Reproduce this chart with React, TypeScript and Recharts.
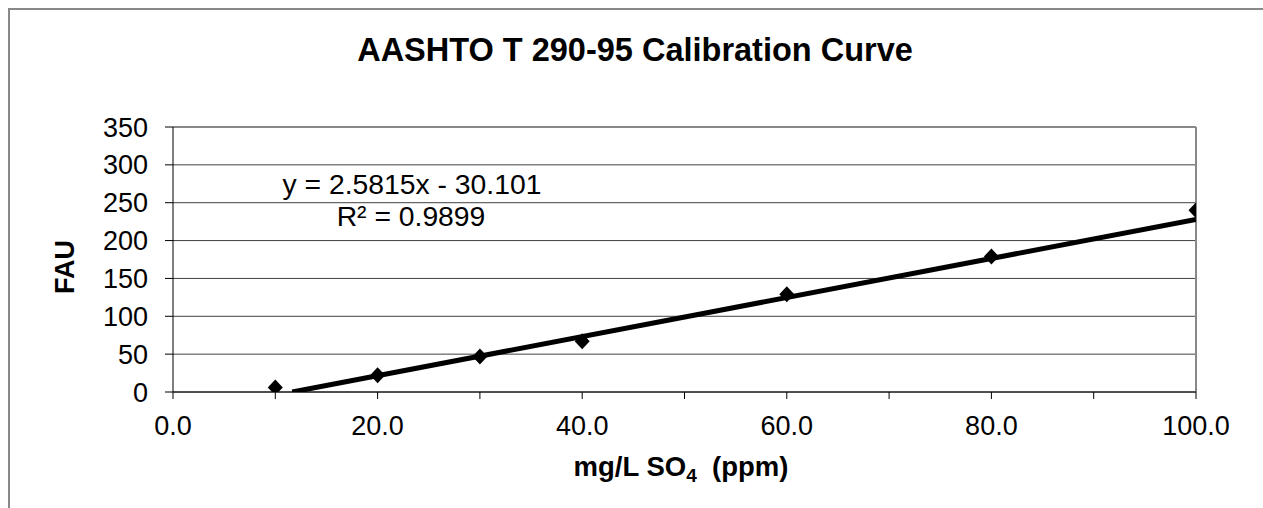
import React from 'react';
import { ScatterChart, Scatter, XAxis, YAxis, CartesianGrid, ReferenceLine } from 'recharts';

// SO4 standards (mg/L) and turbidity readings (FAU)
const concentrations = [10, 20, 30, 40, 60, 80, 100];
const fauReadings = [6, 22, 47, 67, 129, 179, 240];

// linear trendline ends, as drawn
const trendX = [11.66, 100];
const trendY = [0, 228.05];

const xTicks = [0, 10, 20, 30, 40, 50, 60, 70, 80, 90, 100];
const yTicks = [0, 50, 100, 150, 200, 250, 300, 350];

const title = 'AASHTO T 290-95 Calibration Curve';
const equation = 'y = 2.5815x - 30.101';
const rSquared = 'R² = 0.9899';

const FONT = '"Liberation Sans", Arial, sans-serif';
const W = 1263;
const H = 508;

const points = concentrations.map((x, i) => ({ x, y: fauReadings[i] }));
const trend = trendX.map((x, i) => ({ x, y: trendY[i] }));

const Diamond = (props: any) => {
  const { cx, cy } = props;
  if (cx == null || cy == null) return null;
  return (
    <polygon
      points={`${cx},${cy - 8} ${cx + 7.5},${cy} ${cx},${cy + 8} ${cx - 7.5},${cy}`}
      fill="#000"
    />
  );
};

const Nothing = () => <g />;

export default function App() {
  return (
    <div style={{ position: 'absolute', left: 0, top: 0, width: W, height: H, overflow: 'hidden', background: '#fff' }}>
      <ScatterChart
        width={W}
        height={H}
        margin={{ top: 127, right: 67, bottom: 56, left: 73 }}
        style={{ fontFamily: FONT }}
      >
        <CartesianGrid horizontal vertical={false} stroke="#404040" strokeWidth={1} />
        <XAxis
          type="number"
          dataKey="x"
          domain={[0, 100]}
          ticks={xTicks}
          interval={0}
          height={60}
          tickSize={7}
          tickMargin={17}
          tickFormatter={(v: number) => (v % 20 === 0 ? v.toFixed(1) : '')}
          tick={{ fill: '#000', fontSize: 27, fontFamily: FONT }}
          axisLine={{ stroke: '#000', strokeWidth: 1 }}
          tickLine={{ stroke: '#000', strokeWidth: 1 }}
          allowDataOverflow
        />
        <YAxis
          type="number"
          dataKey="y"
          domain={[0, 350]}
          ticks={yTicks}
          interval={0}
          width={100}
          tickSize={8}
          tickMargin={17}
          tick={{ fill: '#000', fontSize: 27, fontFamily: FONT }}
          axisLine={{ stroke: '#000', strokeWidth: 1 }}
          tickLine={{ stroke: '#000', strokeWidth: 1 }}
          allowDataOverflow
        />
        <ReferenceLine y={350} stroke="#888" strokeWidth={2} />
        <ReferenceLine x={100} stroke="#888" strokeWidth={2} />
        <Scatter
          data={trend}
          shape={Nothing}
          line={{ stroke: '#000', strokeWidth: 5 }}
          isAnimationActive={false}
        />
        <Scatter data={points} shape={Diamond} isAnimationActive={false} />
      </ScatterChart>
      <svg
        width={W}
        height={H}
        style={{ position: 'absolute', left: 0, top: 0, pointerEvents: 'none', fontFamily: FONT }}
      >
        <path d={`M9,${H} L9,9 L${W},9`} fill="none" stroke="#888" strokeWidth={2} />
        <text x={635} y={61} textAnchor="middle" fontSize={32.5} fontWeight="bold" fill="#000">
          {title}
        </text>
        <text x={412} y={194} textAnchor="middle" fontSize={28.3} fill="#000">
          {equation}
        </text>
        <text x={411} y={226} textAnchor="middle" fontSize={28.3} fill="#000">
          {rSquared}
        </text>
        <text
          x={74}
          y={267}
          textAnchor="middle"
          fontSize={27}
          fontWeight="bold"
          fill="#000"
          transform="rotate(-90 74 267)"
        >
          FAU
        </text>
        <text x={681} y={476} textAnchor="middle" fontSize={27.5} fontWeight="bold" fill="#000">
          mg/L SO
          <tspan fontSize={19} dy={6}>4</tspan>
          <tspan dy={-6}>{'\u00a0 (ppm)'}</tspan>
        </text>
      </svg>
    </div>
  );
}
